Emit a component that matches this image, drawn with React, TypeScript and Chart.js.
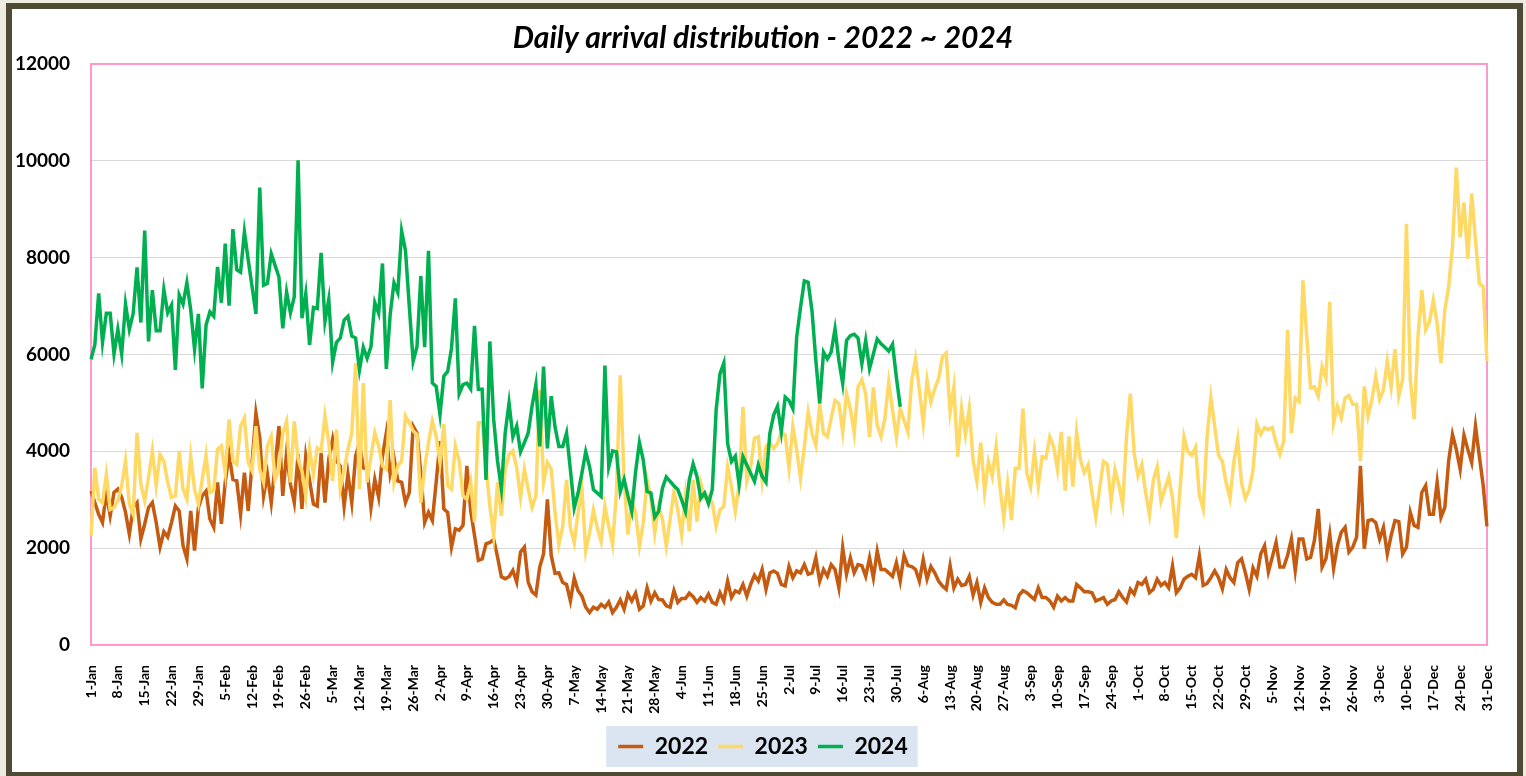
import React, { useEffect, useRef } from "react";
import { Chart, registerables } from "chart.js";

Chart.register(...registerables);

const TITLE = "Daily arrival distribution - 2022 ~ 2024";
const MONTHS = ["Jan", "Feb", "Mar", "Apr", "May", "Jun", "Jul", "Aug", "Sep", "Oct", "Nov", "Dec"];
const MONTH_DAYS = [31, 28, 31, 30, 31, 30, 31, 31, 30, 31, 30, 31];
const TICK_EVERY = 7;
const CATEGORIES: string[] = [];
MONTHS.forEach((m, i) => {
  for (let d = 1; d <= MONTH_DAYS[i]; d++) CATEGORIES.push(`${d}-${m}`);
});

const SERIES_NAMES = ["2022", "2023", "2024"];
const SERIES_COLORS = ["#c55a11", "#ffd966", "#00b050"];
const Y_MIN = 0;
const Y_MAX = 12000;
const Y_STEP = 2000;

const D2022 = [
  3180, 2940, 2700, 2530, 3150, 2670, 3150, 3220, 3050, 2740,
  2290, 2840, 2940, 2190, 2500, 2840, 2940, 2530, 2020, 2340,
  2230, 2530, 2870, 2770, 2050, 1780, 2770, 1950, 2840, 3080,
  3180, 2600, 2430, 3360, 2500, 3360, 3940, 3420, 3390, 2700,
  3560, 2770, 3770, 4790, 4280, 3080, 3530, 2940, 3700, 4520,
  3080, 3970, 3320, 2940, 3940, 2810, 3900, 3390, 2910, 2870,
  3970, 2940, 3840, 4250, 3800, 3700, 2870, 3530, 2940, 3900,
  4180, 3660, 3630, 2840, 3420, 3050, 3900, 4380, 3530, 3870,
  3390, 3360, 2940, 3150, 4520, 4380, 3560, 2530, 2740, 2570,
  3360, 4210, 2810, 2740, 2020, 2400, 2370, 2470, 3700, 2770,
  2260, 1750, 1780, 2090, 2120, 2180, 1820, 1410, 1370, 1410,
  1540, 1300, 1920, 2020, 1300, 1100, 1030, 1610, 1880, 3010,
  1850, 1480, 1490, 1290, 1250, 910, 1380, 1120, 1010, 780,
  670, 780, 740, 840, 780, 890, 670, 780, 930, 740,
  1050, 910, 1070, 740, 810, 1180, 910, 1080, 940, 930,
  810, 780, 1120, 880, 960, 960, 1070, 1000, 880, 980,
  910, 1050, 880, 840, 1080, 910, 1320, 980, 1120, 1080,
  1250, 1010, 1250, 1440, 1320, 1560, 1150, 1490, 1530, 1480,
  1250, 1220, 1620, 1390, 1530, 1490, 1660, 1460, 1490, 1800,
  1320, 1560, 1420, 1660, 1560, 1180, 2010, 1460, 1800, 1490,
  1660, 1640, 1420, 1800, 1390, 1940, 1560, 1560, 1490, 1420,
  1700, 1320, 1850, 1640, 1620, 1560, 1320, 1760, 1360, 1620,
  1490, 1320, 1220, 1150, 1640, 1180, 1360, 1230, 1250, 1420,
  1030, 1290, 880, 1180, 980, 880, 840, 840, 930, 840,
  820, 770, 1030, 1120, 1080, 1010, 940, 1180, 980, 980,
  910, 780, 1010, 910, 980, 910, 910, 1250, 1180, 1100,
  1100, 1080, 910, 940, 980, 840, 910, 940, 1100, 980,
  890, 1150, 1050, 1290, 1250, 1360, 1080, 1150, 1360, 1230,
  1290, 1180, 1630, 1080, 1180, 1360, 1420, 1460, 1390, 1840,
  1230, 1270, 1390, 1530, 1390, 1160, 1560, 1390, 1290, 1700,
  1780, 1490, 1150, 1590, 1420, 1880, 2050, 1510, 1810, 2120,
  1610, 1610, 1850, 2190, 1540, 2190, 2190, 1780, 1810, 2160,
  2810, 1610, 1780, 2290, 1580, 2050, 2330, 2430, 1920, 2020,
  2230, 3700, 1990, 2570, 2590, 2530, 2190, 2430, 1880, 2260,
  2570, 2550, 1880, 2020, 2740, 2470, 2430, 3150, 3290, 2700,
  2700, 3360, 2640, 2840, 3800, 4350, 4040, 3630, 4330, 4040,
  3770, 4520, 3900, 3300, 2450,
];

const D2023 = [
  2260, 3660, 3010, 2940, 3520, 2800, 2840, 2980, 3290, 3800,
  2910, 2700, 4380, 3320, 2980, 3460, 4010, 3290, 3930, 3800,
  3360, 3050, 3080, 4010, 3220, 3010, 3900, 3220, 2910, 3420,
  3920, 3150, 3190, 4040, 4110, 3560, 4660, 3800, 3730, 4520,
  4690, 3770, 3600, 4520, 3630, 3360, 4110, 4310, 3420, 3630,
  4380, 4620, 3360, 4620, 3840, 3600, 3080, 4040, 3520, 4070,
  4010, 4730, 4180, 3390, 4450, 3220, 3630, 4040, 4380, 5820,
  3220, 5410, 3360, 3900, 4380, 4110, 3700, 3630, 5060, 3360,
  3700, 3800, 4730, 4590, 4420, 4350, 2940, 3660, 4180, 4620,
  4310, 3770, 4560, 3290, 3220, 4110, 3800, 3080, 3010, 3360,
  2540, 4590, 4590, 3700, 2870, 2260, 3360, 2670, 3630, 3930,
  4010, 3660, 3050, 3630, 3220, 2840, 3080, 5270, 3360, 3770,
  3630, 2730, 2070, 2450, 3410, 2420, 2110, 2730, 3240, 1940,
  2310, 2790, 2420, 2140, 2860, 2450, 2070, 3140, 5570, 3410,
  2280, 3000, 2730, 2040, 2520, 3410, 3030, 2310, 2860, 2590,
  2040, 2590, 3170, 2790, 2280, 3100, 2350, 3410, 2550, 3340,
  3030, 3070, 2930, 2450, 2790, 2860, 3680, 3270, 2760, 3310,
  4920, 3380, 3680, 4270, 4300, 3410, 4100, 4180, 4060, 4160,
  4400, 4340, 3650, 4510, 4030, 3440, 4100, 4810, 4370, 4120,
  4970, 4370, 4300, 4680, 5050, 4990, 4400, 5190, 4880, 4370,
  5330, 5480, 5190, 4300, 5320, 4540, 4300, 4680, 5430, 4850,
  4300, 4880, 4640, 4400, 5470, 5910, 5260, 4580, 5470, 5020,
  5290, 5500, 5950, 6030, 4810, 5330, 3890, 4880, 4340, 4880,
  3820, 3380, 4180, 3170, 3790, 3480, 4100, 3270, 2620, 3330,
  2580, 3650, 3650, 4880, 3550, 3270, 3990, 3290, 3890, 3860,
  4300, 4100, 3620, 4400, 3190, 4310, 3270, 4400, 3820, 3560,
  3720, 3140, 2640, 3240, 3790, 3740, 2970, 3620, 3310, 2900,
  4300, 5190, 3960, 3490, 3720, 3140, 2690, 3410, 3680, 2970,
  3220, 3470, 3030, 2210, 3270, 4300, 3990, 3920, 4080, 3100,
  2810, 4300, 5110, 4510, 3920, 3790, 3340, 3030, 3790, 4250,
  3340, 3030, 3210, 3620, 4560, 4350, 4490, 4450, 4490, 4180,
  3940, 4210, 6510, 4380, 5100, 5030, 7530, 6370, 5310, 5330,
  5140, 5750, 5510, 7090, 4590, 4930, 4690, 5100, 5150, 4970,
  4970, 3800, 5340, 4730, 5070, 5550, 5070, 5270, 5860, 5330,
  6110, 5140, 5480, 8700, 5480, 4660, 6370, 7330, 6510, 6680,
  7120, 6640, 5820, 6920, 7400, 8220, 9860, 8420, 9140, 7980,
  9330, 8360, 7470, 7400, 5860,
];

const D2024 = [
  5900, 6200, 7260, 6250, 6850, 6850, 6010, 6520, 6010, 7040,
  6520, 6850, 7800, 6660, 8560, 6270, 7330, 6490, 6490, 7340,
  6860, 7020, 5680, 7230, 7040, 7480, 6920, 6110, 6840, 5300,
  6610, 6880, 6790, 7810, 7070, 8290, 7010, 8590, 7750, 7700,
  8530, 7950, 7400, 6840, 9450, 7430, 7470, 8080, 7840, 7600,
  6540, 7290, 6860, 7190, 10010, 6750, 7260, 6200, 6970, 6950,
  8100, 6680, 7140, 5840, 6250, 6340, 6710, 6790, 6380, 6340,
  5680, 6150, 5920, 6160, 7070, 6850, 7880, 5700, 6820, 7480,
  7280, 8550, 8150, 6990, 5860, 6160, 7620, 6150, 8140, 5410,
  5340, 4760, 5550, 5650, 6130, 7160, 5190, 5380, 5410, 5290,
  6590, 5280, 5280, 3410, 6270, 4660, 3800, 3230, 4380, 5000,
  4300, 4520, 3990, 4180, 4380, 4930, 5380, 4100, 5750, 4060,
  5140, 4500, 4100, 4100, 4380, 3620, 2830, 3140, 3550, 3990,
  3680, 3210, 3140, 3070, 5770, 3680, 4010, 3990, 3170, 3420,
  3080, 2760, 3580, 4180, 3820, 3170, 3140, 2640, 2760, 3240,
  3470, 3380, 3290, 3210, 3000, 2760, 3410, 3740, 3480, 3030,
  3140, 2920, 3210, 4850, 5600, 5820, 4160, 3790, 3900, 3310,
  3890, 3720, 3550, 3380, 3720, 3480, 3360, 4370, 4750, 4930,
  4400, 5120, 5050, 4880, 6360, 6970, 7520, 7490, 6900, 5880,
  4990, 6050, 5910, 6050, 6530, 5880, 5400, 6290, 6390, 6420,
  6340, 5810, 6290, 5710, 6010, 6320, 6220, 6150, 6070, 6210,
  5530, 4920,
];

const SERIES_DATA = [D2022, D2023, D2024];
const FONT = 'Lato, "Noto Sans", sans-serif';

const plotFrame = {
  id: "plotFrame",
  beforeDatasetsDraw(chart: any) {
    const { ctx, chartArea: a } = chart;
    ctx.save();
    ctx.strokeStyle = "#ff99cc";
    ctx.lineWidth = 2;
    ctx.strokeRect(a.left, a.top, a.right - a.left, a.bottom - a.top);
    ctx.restore();
  },
};

const legendBox = {
  id: "legendBox",
  beforeDraw(chart: any) {
    const lg = chart.legend;
    if (!lg || !lg.legendHitBoxes || !lg.legendHitBoxes.length) return;
    const hb = lg.legendHitBoxes;
    const left = Math.min(...hb.map((h: any) => h.left)) - 12;
    const right = Math.max(...hb.map((h: any) => h.left + h.width)) + 10;
    const top = hb[0].top - 9;
    const bottom = hb[0].top + hb[0].height + 9;
    const ctx = chart.ctx;
    ctx.save();
    ctx.fillStyle = "#dbe5f1";
    ctx.fillRect(left, top, right - left, bottom - top);
    ctx.restore();
  },
};

export default function App() {
  const ref = useRef<HTMLCanvasElement>(null);

  useEffect(() => {
    if (!ref.current) return;
    const chart = new Chart(ref.current, {
      type: "line",
      data: {
        labels: CATEGORIES,
        datasets: SERIES_NAMES.map((name, i) => ({
          label: name,
          data: SERIES_DATA[i],
          borderColor: SERIES_COLORS[i],
          backgroundColor: SERIES_COLORS[i],
          borderWidth: 3.5,
          pointRadius: 0,
          pointHoverRadius: 0,
          tension: 0,
          fill: false,
          yAxisID: "y",
          order: SERIES_NAMES.length - i,
        })),
      },
      options: {
        responsive: false,
        animation: false,
        devicePixelRatio: 1,
        layout: { padding: { left: 0, right: 0, top: 0, bottom: 8 } },
        plugins: {
          title: {
            display: true,
            text: TITLE,
            color: "#000",
            font: { family: FONT, size: 30, weight: "bold", style: "italic" },
            padding: { top: 20, bottom: 8 },
          },
          legend: {
            position: "bottom",
            labels: {
              usePointStyle: true,
              pointStyle: "line",
              pointStyleWidth: 25,
              padding: 10,
              color: "#000",
              font: { family: FONT, size: 23, weight: "bold" },
              sort: (a: any, b: any) => a.datasetIndex - b.datasetIndex,
            },
          },
          tooltip: { enabled: false },
        },
        scales: {
          x: {
            type: "category",
            grid: { display: false },
            border: { display: false },
            ticks: {
              autoSkip: false,
              maxRotation: 90,
              minRotation: 90,
              padding: 12,
              color: "#000",
              font: { family: FONT, size: 14, weight: "bold" },
              callback: (_v: any, i: number) => (i % TICK_EVERY === 0 ? CATEGORIES[i] : null),
            },
            afterFit: (s: any) => {
              s.height = 80;
              s.paddingLeft = 0;
              s.paddingRight = 0;
            },
          },
          y: {
            position: "left",
            min: Y_MIN,
            max: Y_MAX,
            border: { display: false },
            grid: { color: "#d9d9d9", lineWidth: 1, drawTicks: false },
            ticks: {
              stepSize: Y_STEP,
              padding: 21,
              color: "#000",
              font: { family: FONT, size: 19, weight: "bold" },
              callback: (v: any) => String(v),
            },
            afterFit: (s: any) => {
              s.width = 91;
            },
          },
          yRight: {
            position: "right",
            display: true,
            min: Y_MIN,
            max: Y_MAX,
            border: { display: false },
            grid: { display: false, drawTicks: false },
            ticks: { display: false },
            afterFit: (s: any) => {
              s.width = 39;
            },
          },
        },
      } as any,
      plugins: [plotFrame, legendBox],
    });
    return () => chart.destroy();
  }, []);

  return (
    <div
      style={{
        position: "fixed",
        left: 0,
        top: 0,
        width: 1526,
        height: 776,
        background: "#eeece1",
        overflow: "hidden",
      }}
    >
      <div
        style={{
          position: "absolute",
          left: 6,
          top: 3,
          width: 1517,
          height: 775,
          boxSizing: "border-box",
          border: "6px solid #4f4a33",
          background: "#ffffff",
        }}
      />
      <canvas
        ref={ref}
        width={1526}
        height={776}
        style={{ position: "absolute", left: 0, top: 0, width: 1526, height: 776 }}
      />
    </div>
  );
}
